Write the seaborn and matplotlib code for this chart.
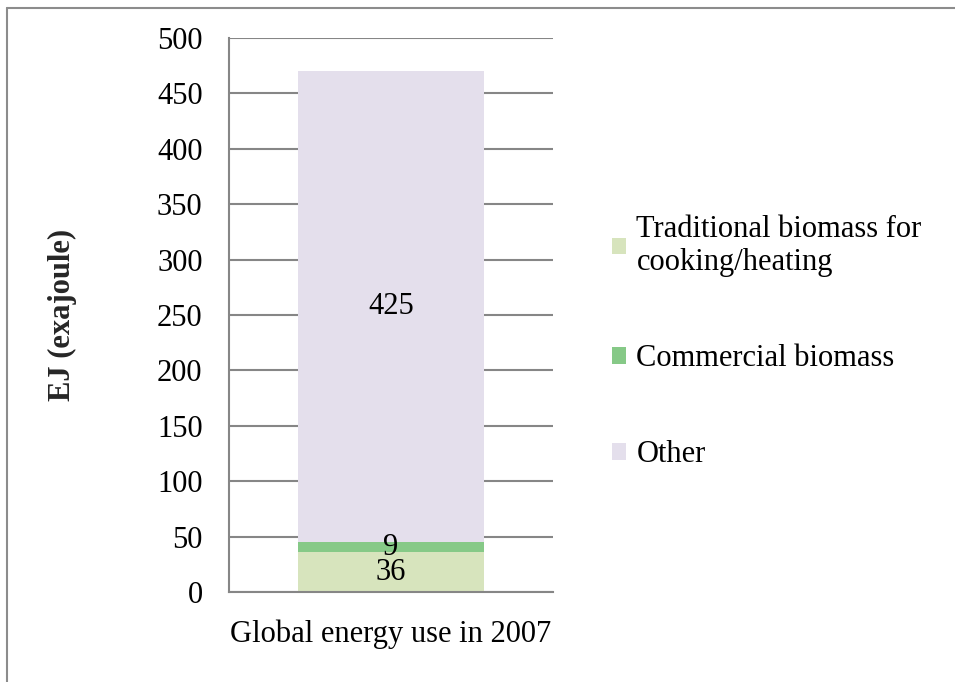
import matplotlib.pyplot as plt
import numpy as np
import seaborn as sns
from matplotlib.lines import Line2D
from matplotlib.patches import Patch

# data
category = ["Global energy use in 2007"]
series_names = ["Traditional biomass for\ncooking/heating", "Commercial biomass", "Other"]
series_values = [36, 9, 425]
series_colors = ["#D7E4BD", "#86C987", "#E4DFEC"]
y_ticks = [0, 50, 100, 150, 200, 250, 300, 350, 400, 450, 500]

GRID = "#868686"

sns.set_theme(style="white")
plt.rcParams.update(
    {
        "font.family": ["Liberation Serif", "DejaVu Serif"],
        "font.size": 22,
        "text.color": "black",
        "xtick.color": "black",
        "ytick.color": "black",
    }
)

fig = plt.figure(figsize=(9.55, 6.82), dpi=100)
ax = fig.add_axes([229 / 955, 90 / 682, 324 / 955, 554 / 682])

# stacked bar: draw cumulative totals from the top down
cum = np.cumsum(series_values)
for i in reversed(range(len(series_values))):
    sns.barplot(
        x=category,
        y=[cum[i]],
        color=series_colors[i],
        saturation=1,
        width=0.577,
        linewidth=0,
        ax=ax,
    )

# segment value labels
bottoms = cum - np.array(series_values)
for val, bot in zip(series_values, bottoms):
    ax.text(0, bot + val / 2, str(val), ha="center", va="center", fontsize=22)

ax.set_xlim(-0.5, 0.5)
ax.set_ylim(0, 500)
ax.set_yticks(y_ticks)
ax.set_yticklabels([str(t) for t in y_ticks])
ax.tick_params(axis="both", length=0, labelsize=22)
ax.tick_params(axis="y", pad=19)
ax.tick_params(axis="x", pad=20)
ax.yaxis.grid(True, color=GRID, linewidth=1.5)
ax.set_axisbelow(True)
for side in ["top", "right"]:
    ax.spines[side].set_visible(False)
for side in ["left", "bottom"]:
    ax.spines[side].set_color(GRID)
    ax.spines[side].set_linewidth(1.5)
ax.set_xlabel("")
ax.set_ylabel("EJ (exajoule)", fontsize=22, fontweight="bold")
ax.yaxis.set_label_coords(-0.468, 0.5)

handles = [Patch(facecolor=c, edgecolor="none") for c in series_colors]
fig.legend(
    handles,
    series_names,
    loc="center left",
    bbox_to_anchor=(612 / 955, 1 - 342 / 682),
    frameon=False,
    fontsize=22,
    handlelength=0.45,
    handleheight=0.45,
    handletextpad=0.35,
    labelspacing=2.2,
    borderpad=0,
    borderaxespad=0,
)

# outer chart frame (left and top edges visible)
fig.add_artist(Line2D([7 / 955, 7 / 955], [0, 1 - 8 / 682], transform=fig.transFigure, color="#8c8c8c", linewidth=1.5))
fig.add_artist(Line2D([7 / 955, 1], [1 - 8 / 682, 1 - 8 / 682], transform=fig.transFigure, color="#8c8c8c", linewidth=1.5))

fig.savefig("out.png", dpi=100, facecolor="white")
